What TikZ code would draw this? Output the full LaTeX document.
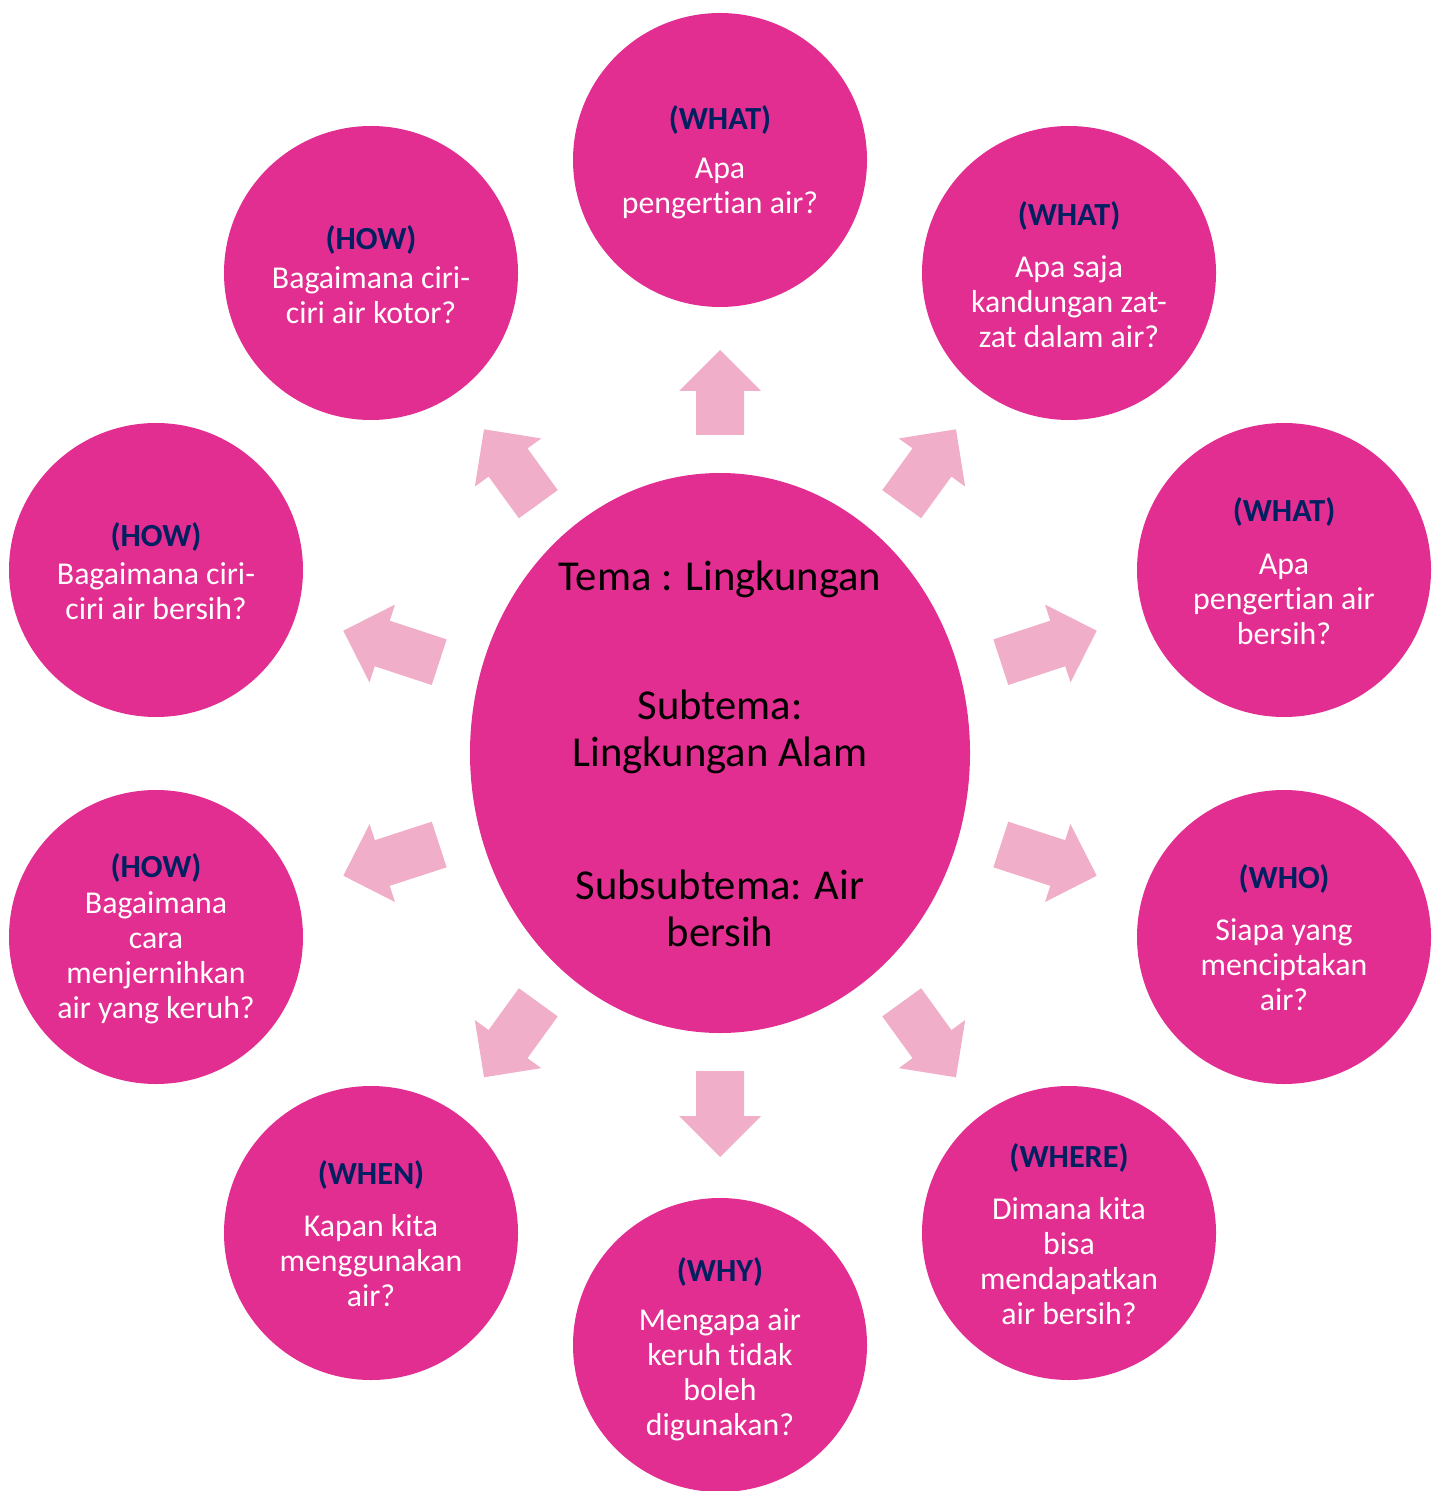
\documentclass[tikz,border=0pt]{standalone}
\usepackage{fontspec}
\setmainfont[Ligatures={NoCommon}]{Carlito}
\usetikzlibrary{calc,shapes.geometric}
\definecolor{mag}{HTML}{E22D91}
\definecolor{arr}{HTML}{F0AEC8}
\definecolor{navy}{HTML}{002060}
\newcommand{\blockarr}[2]{%
  \coordinate (hb) at ($(#2)!20.5pt!(#1)$);
  \fill[arr] ($(#1)!12pt!90:(#2)$) -- ($(hb)!12pt!90:(#2)$) -- ($(hb)!20.5pt!90:(#2)$) -- (#2)
    -- ($(hb)!20.5pt!-90:(#2)$) -- ($(hb)!12pt!-90:(#2)$) -- ($(#1)!12pt!-90:(#2)$) -- cycle;}
\begin{document}
\begin{tikzpicture}[x=0.5pt,y=-0.5pt,
  bubble/.style={circle, fill=mag, minimum size=147pt, inner sep=0pt},
  lab/.style={font=\fontsize{16.1}{17.5}\selectfont\bfseries, text=navy, inner sep=0pt, yshift=-1pt},
  body/.style={font=\fontsize{15.9}{17.5}\selectfont, text=white, align=center, inner sep=0pt, yshift=-2pt},
  ctext/.style={font=\fontsize{21.3}{23.5}\selectfont, text=black, align=center, inner sep=0pt, yshift=-1pt}]
\useasboundingbox (0,0) rectangle (1440,1491);

% center
\node[ellipse, fill=mag, minimum width=250pt, minimum height=280pt, inner sep=0pt] (c) at (720,753) {};
\node[ctext] (c1) at (720,577) {Tema : Lingkungan};
\node[ctext] (c2) at (720,729.5) {Subtema:\\Lingkungan Alam};
\node[ctext] (c3) at (720,906.5) {Subsubtema: Air\\bersih};

% bubbles
\node[bubble] (b1) at (720,160) {};
\node[lab] (l1) at (720,118) {(WHAT)};
\node[body] (t1) at (720,185) {Apa\\pengertian air?};

\node[bubble] (b2) at (1069,273) {};
\node[lab] (l2) at (1069,214) {(WHAT)};
\node[body] (t2) at (1069,298) {Apa saja\\kandungan zat-\\zat dalam air?};

\node[bubble] (b3) at (1284,570) {};
\node[lab] (l3) at (1284,510) {(WHAT)};
\node[body] (t3) at (1284,595) {Apa\\pengertian air\\bersih?};

\node[bubble] (b4) at (1284,937) {};
\node[lab] (l4) at (1284,877) {(WHO)};
\node[body] (t4) at (1284,961) {Siapa yang\\menciptakan\\air?};

\node[bubble] (b5) at (1069,1233) {};
\node[lab] (l5) at (1069,1156) {(WHERE)};
\node[body] (t5) at (1069,1257.5) {Dimana kita\\bisa\\mendapatkan\\air bersih?};

\node[bubble] (b6) at (720,1345) {};
\node[lab] (l6) at (720,1270) {(WHY)};
\node[body] (t6) at (720,1371) {Mengapa air\\keruh tidak\\boleh\\digunakan?};

\node[bubble] (b7) at (371,1233) {};
\node[lab] (l7) at (371,1173) {(WHEN)};
\node[body] (t7) at (371,1257) {Kapan kita\\menggunakan\\air?};

\node[bubble] (b8) at (156,937) {};
\node[lab] (l8) at (156,866) {(HOW)};
\node[body] (t8) at (156,954) {Bagaimana\\cara\\menjernihkan\\air yang keruh?};

\node[bubble] (b9) at (156,570) {};
\node[lab] (l9) at (156,535) {(HOW)};
\node[body] (t9) at (156,587) {Bagaimana ciri-\\ciri air bersih?};

\node[bubble] (b10) at (371,273) {};
\node[lab] (l10) at (371,238) {(HOW)};
\node[body] (t10) at (371,291) {Bagaimana ciri-\\ciri air kotor?};

% arrows
\coordinate (a1t) at (720,435);     \coordinate (a1p) at (720,350);
\coordinate (a2t) at (901.7,504.2); \coordinate (a2p) at (956,429.3);
\coordinate (a3t) at (1000.8,662.2);\coordinate (a3p) at (1096.7,630.7);
\coordinate (a4t) at (1000.8,844.5);\coordinate (a4p) at (1096.7,875.7);
\coordinate (a5t) at (901.7,1002.3);\coordinate (a5p) at (956,1077.3);
\coordinate (a6t) at (720,1071);    \coordinate (a6p) at (720,1157);
\coordinate (a7t) at (538.3,1002.3);\coordinate (a7p) at (484,1077.3);
\coordinate (a8t) at (439.2,844.5); \coordinate (a8p) at (343.3,875.7);
\coordinate (a9t) at (439.2,662.2); \coordinate (a9p) at (343.3,630.7);
\coordinate (a10t) at (538.3,504.2);\coordinate (a10p) at (484,429.3);
\foreach \i in {1,...,10} {\blockarr{a\i t}{a\i p}}
\end{tikzpicture}
\end{document}
